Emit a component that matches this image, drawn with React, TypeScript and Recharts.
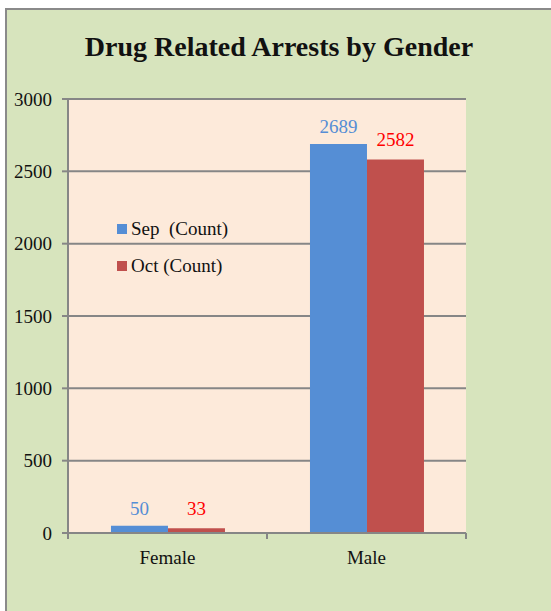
import React from "react";
import { BarChart, Bar, XAxis, YAxis, CartesianGrid, Legend, LabelList } from "recharts";

const categories = ["Female", "Male"];
const sepCounts = [50, 2689];
const octCounts = [33, 2582];
const yTicks = [0, 500, 1000, 1500, 2000, 2500, 3000];
const seriesNames = ["Sep  (Count)", "Oct (Count)"];

const data = categories.map((c, i) => ({ name: c, sep: sepCounts[i], oct: octCounts[i] }));

const FONT = "'Liberation Serif', serif";
const GRID = "#868686";
const SEP = "#558ED5";
const OCT = "#C0504D";

const CategoryTick = (props: any) => {
  const { x, y, payload, index, visibleTicksCount } = props;
  const off = payload && typeof payload.offset === "number" ? payload.offset : 0;
  const top = y - 8;
  const isLast = index === (visibleTicksCount ?? categories.length) - 1;
  return (
    <g>
      <line x1={x - off} x2={x - off} y1={top} y2={top + 6} stroke={GRID} strokeWidth={2} />
      {isLast && <line x1={x + off} x2={x + off} y1={top} y2={top + 6} stroke={GRID} strokeWidth={2} />}
      <text x={x} y={top + 31} textAnchor="middle" fontFamily={FONT} fontSize={19} fill="#111">
        {payload.value}
      </text>
    </g>
  );
};

const LegendContent = () => (
  <div style={{ fontFamily: FONT, fontSize: 19, color: "#111" }}>
    {[SEP, OCT].map((col, i) => (
      <div key={i} style={{ display: "flex", alignItems: "center", height: 37 }}>
        <span style={{ display: "inline-block", width: 10, height: 10, background: col, marginRight: 4 }} />
        <span style={{ whiteSpace: "pre" }}>{seriesNames[i]}</span>
      </div>
    ))}
  </div>
);

export default function App() {
  return (
    <div style={{ position: "absolute", left: 0, top: 0, width: 551, height: 611, background: "#fff", overflow: "hidden" }}>
      <div
        style={{
          position: "absolute",
          left: 5,
          top: 8,
          width: 560,
          height: 620,
          background: "#D7E4BD",
          borderLeft: "2px solid #8a8a8a",
          borderTop: "2px solid #8a8a8a",
        }}
      />
      <div
        style={{
          position: "absolute",
          left: 5,
          top: 31,
          width: 548,
          textAlign: "center",
          fontFamily: FONT,
          fontWeight: "bold",
          fontSize: 28,
          lineHeight: "32px",
          color: "#111",
        }}
      >
        Drug Related Arrests by Gender
      </div>
      <div style={{ position: "absolute", left: 0, top: 0 }}>
        <BarChart
          width={551}
          height={611}
          data={data}
          margin={{ top: 99, right: 85, left: 8, bottom: 38 }}
          barGap={0}
          barCategoryGap="21.6%"
        >
          <CartesianGrid vertical={false} fill="#FDEADA" stroke={GRID} strokeWidth={2} fillOpacity={1} />
          <XAxis
            dataKey="name"
            height={40}
            axisLine={{ stroke: GRID, strokeWidth: 2 }}
            tickLine={false}
            tick={<CategoryTick />}
            interval={0}
          />
          <YAxis
            width={60}
            domain={[0, 3000]}
            ticks={yTicks}
            interval={0}
            axisLine={{ stroke: GRID, strokeWidth: 2 }}
            tickLine={{ stroke: GRID, strokeWidth: 2 }}
            tickSize={6}
            tickMargin={10}
            tick={{ fontFamily: FONT, fontSize: 19, fill: "#111" }}
          />
          <Legend
            layout="vertical"
            verticalAlign="middle"
            align="center"
            content={<LegendContent />}
            wrapperStyle={{ left: 117, top: 210, width: 180 }}
          />
          <Bar dataKey="sep" name={seriesNames[0]} fill={SEP} isAnimationActive={false}>
            <LabelList dataKey="sep" position="top" offset={11} fill={SEP} fontFamily={FONT} fontSize={19} />
          </Bar>
          <Bar dataKey="oct" name={seriesNames[1]} fill={OCT} isAnimationActive={false}>
            <LabelList dataKey="oct" position="top" offset={13} fill="#FF0000" fontFamily={FONT} fontSize={19} />
          </Bar>
        </BarChart>
      </div>
    </div>
  );
}
